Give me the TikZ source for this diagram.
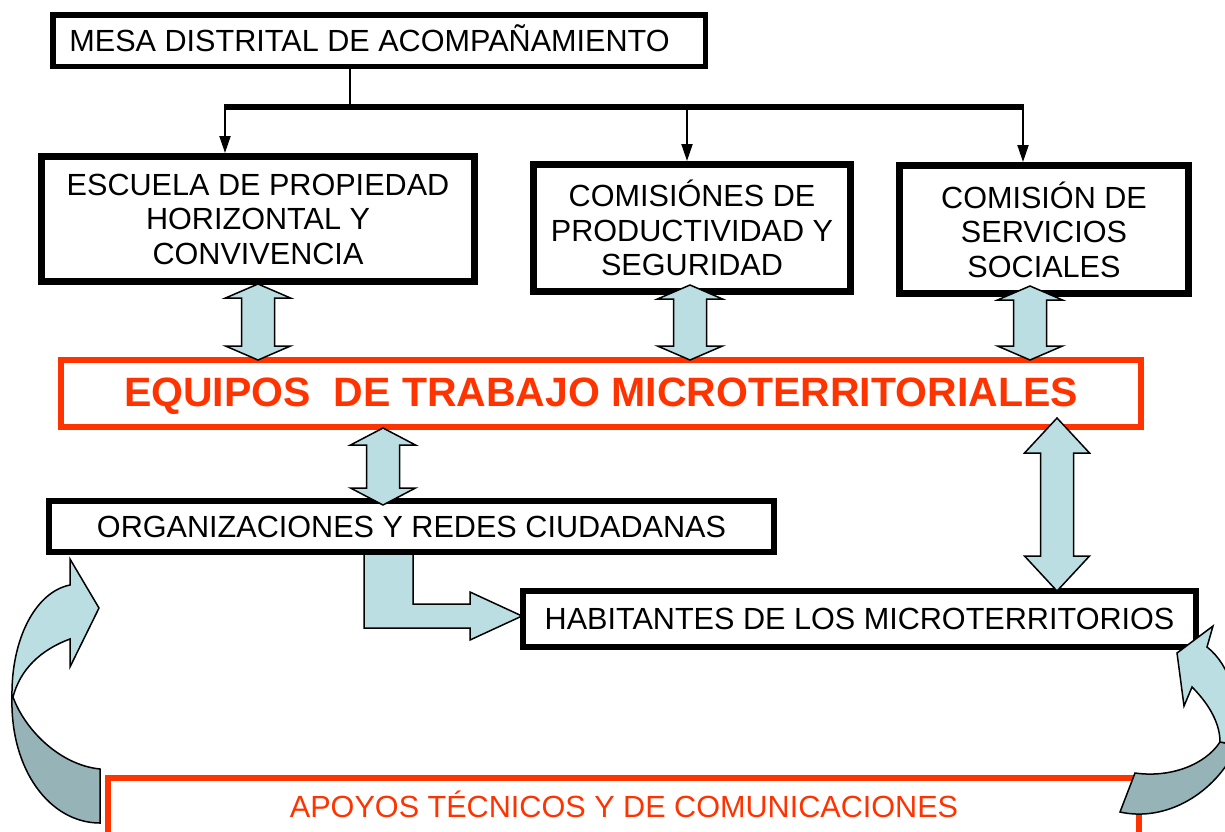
\documentclass[tikz,border=0pt]{standalone}
\usepackage{fontspec}
\setmainfont{Liberation Sans}
\usetikzlibrary{arrows.meta}
\definecolor{redo}{RGB}{255,51,0}
\definecolor{lblue}{RGB}{186,222,226}
\definecolor{dblue}{RGB}{150,180,184}
\newcommand\dblarr[4]{\begin{scope}[shift={(#1,#2)}]\filldraw[barrow] (0,0) -- (32.5,#4) -- (16.5,#4) -- (16.5,{#3-#4}) -- (32.5,{#3-#4}) -- (0,#3) -- (-32.5,{#3-#4}) -- (-16.5,{#3-#4}) -- (-16.5,#4) -- (-32.5,#4) -- cycle;\end{scope}}
\tikzset{
 box/.style={draw, line width=6pt, inner sep=0pt, align=center, font=\fontsize{30.6}{34.5}\selectfont},
 rbox/.style={box, draw=redo},
 txt/.style={inner sep=0pt, align=center, font=\fontsize{30.6}{34.5}\selectfont},
 barrow/.style={fill=lblue, draw=black, line width=1.5pt, line join=miter},
 curvel/.style={fill=lblue, draw=black, line width=1.5pt, line join=miter},
 curved/.style={fill=dblue, draw=black, line width=1.5pt, line join=miter},
 thinline/.style={line width=1.5pt},
 arr/.style={line width=2pt, -{Triangle[width=11pt,length=17pt]}},
}
\begin{document}
\begin{tikzpicture}[x=1pt,y=-1pt]
\useasboundingbox (0,0) rectangle (1225,831);
% boxes
\node[box, line width=5.5pt, minimum width=652.5pt, minimum height=51.5pt] (mesa) at (379,40.5) {};
\node[txt] (mesatxt) at (369.5,38) {MESA DISTRITAL DE ACOMPAÑAMIENTO};
\node[box, line width=7pt, minimum width=433pt, minimum height=125pt] (escuela) at (258,219) {ESCUELA DE PROPIEDAD\\HORIZONTAL Y\\CONVIVENCIA};
\node[box, line width=7pt, minimum width=317pt, minimum height=127pt] (comis) at (692,228) {COMISIÓNES DE\\PRODUCTIVIDAD Y\\SEGURIDAD};
\node[box, line width=7pt, minimum width=289pt, minimum height=128pt] (serv) at (1044,229.5) {COMISIÓN DE\\SERVICIOS\\SOCIALES};
\node[rbox, minimum width=1080pt, minimum height=67pt] (equipos) at (601,393.5) {};
\node[txt, text=redo, font=\fontsize{41}{45}\selectfont\bfseries] (equipostxt) at (601,396) {EQUIPOS\ \ DE TRABAJO MICROTERRITORIALES};
\node[box, minimum width=725pt, minimum height=51pt] (org) at (411.5,526.5) {ORGANIZACIONES Y REDES CIUDADANAS};
\node[box, minimum width=673pt, minimum height=56pt] (hab) at (859.5,619) {HABITANTES DE LOS MICROTERRITORIOS};
\node[rbox, minimum width=1031pt, minimum height=74pt] (apoyos) at (623.5,815) {};
\node[txt, text=redo] (apoyostxt) at (624,804.5) {APOYOS TÉCNICOS Y DE COMUNICACIONES};
% top connectors
\coordinate (j) at (350,107);
\coordinate (barL) at (225,107);
\coordinate (barM) at (687,107);
\coordinate (barR) at (1023,107);
\draw[thinline] (mesa.south -| j) -- (j);
\draw[line width=6pt] ([xshift=-1pt]barL) -- ([xshift=1pt]barR);
\draw[arr] (barL) -- (escuela.north -| barL);
\draw[arr] (barM) -- (comis.north -| barM);
\draw[arr] (barR) -- (serv.north -| barR);
% block double arrows
\dblarr{258}{284}{76}{14}
\dblarr{690}{285}{75}{14}
\dblarr{1030}{286}{74}{14}
\dblarr{383}{428}{77}{17}
\dblarr{1057}{418}{173}{35}
% L arrow
\filldraw[barrow] (364,555) -- (364,628) -- (470,628) -- (470,640) -- (522,616) -- (470,592) -- (470,604) -- (413,604) -- (413,555);
% left curved arrow
\filldraw[curved] (12,697) .. controls (10,770) and (50,823) .. (100,823) -- (100,769) .. controls (60,765) and (25,730) .. (13,697) -- cycle;
\filldraw[curvel] (12,697) .. controls (11,640) and (35,592) .. (70,585) -- (70,559) -- (99,608) -- (70,667) -- (70,639) .. controls (40,650) and (20,670) .. (13,697) -- cycle;
% right curved arrow
\filldraw[curved] (1135,773) .. controls (1170,778) and (1205,765) .. (1220,742) -- (1238,745) .. controls (1215,795) and (1165,822) .. (1120,812) -- cycle;
\filldraw[curvel] (1192,687) .. controls (1205,700) and (1220,720) .. (1220,742) -- (1238,745) .. controls (1240,700) and (1230,665) .. (1207,647) -- (1213,626) -- (1177,653) -- (1184,706) -- cycle;
\end{tikzpicture}
\end{document}
